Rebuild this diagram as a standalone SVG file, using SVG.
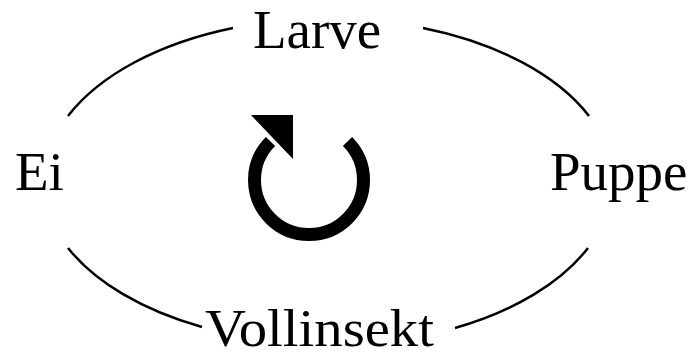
<svg xmlns="http://www.w3.org/2000/svg" width="692" height="358" viewBox="0 0 692 358">
<style>
.lbl{font-family:"Liberation Serif","Times New Roman",serif;font-size:55px;fill:#000}
.arc{fill:none;stroke:#000;stroke-width:2.5}
</style>
<rect width="692" height="358" fill="#fff"/>
<g id="connectors">
<path class="arc" d="M68,116 A285,163.5 0 0 1 233,28"/>
<path class="arc" d="M423,28 A285,163.5 0 0 1 589,116"/>
<path class="arc" d="M588,248 A285,163.5 0 0 1 455,328"/>
<path class="arc" d="M202,327 A285,163.5 0 0 1 68,248"/>
</g>
<g id="cycle">
<path d="M347.5,141.5 A54.5,54.5 0 1 1 270.5,141.5" fill="none" stroke="#000" stroke-width="13"/>
<polygon points="251,115 293,115 293,159" fill="#000"/>
</g>
<g id="larve"><text class="lbl" x="253" y="48">Larve</text></g>
<g id="ei"><text class="lbl" x="15" y="190">Ei</text></g>
<g id="puppe"><text class="lbl" x="550" y="190">Puppe</text></g>
<g id="vollinsekt"><text class="lbl" x="205" y="346" style="font-size:52px" textLength="229" lengthAdjust="spacingAndGlyphs">Vollinsekt</text></g>
</svg>
